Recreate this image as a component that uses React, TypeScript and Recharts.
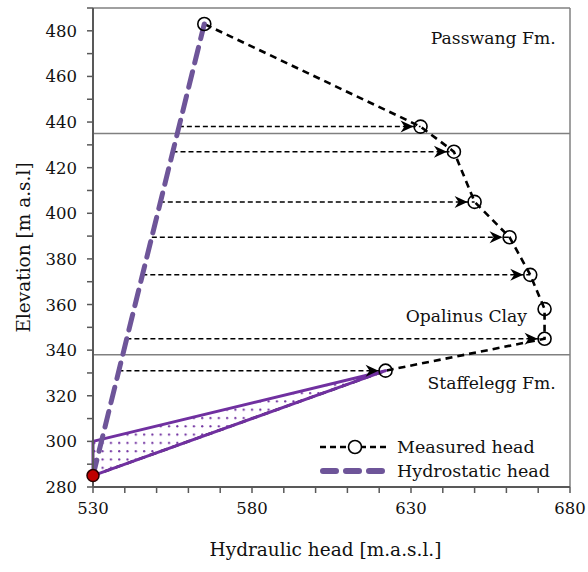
import {
  ComposedChart,
  Line,
  Area,
  XAxis,
  YAxis,
  ReferenceLine,
  ReferenceDot,
  Label,
} from "recharts";

// axis ticks (minor every 10, labels on majors)
const xTicks = [530, 540, 550, 560, 570, 580, 590, 600, 610, 620, 630, 640, 650, 660, 670, 680];
const xLabels = [530, 580, 630, 680];
const yTicks = [280, 290, 300, 310, 320, 330, 340, 350, 360, 370, 380, 390, 400, 410, 420, 430, 440, 450, 460, 470, 480, 490];
const yLabels = [280, 300, 320, 340, 360, 380, 400, 420, 440, 460, 480];

// measured head profile
const measuredHead = [530, 622, 672, 672, 667.5, 661, 650, 643.5, 633, 565];
const measuredElev = [285, 331, 345, 358, 373, 389.5, 405, 427, 438, 483];

// hydrostatic head
const hydroHead = [530, 565];
const hydroElev = [285, 483];

// arrows from hydrostatic line to measured points
const arrowElev = [331, 345, 373, 389.5, 405, 427, 438];
const arrowFrom = [538, 540.5, 545.5, 548.5, 551, 555, 557];
const arrowTo = [622, 672, 667.5, 661, 650, 643.5, 633];

// wedge near the bottom
const wedgeHead = [530, 622, 530, 530];
const wedgeElev = [285, 331, 300, 285];
const wedgeLow = [285, 331];
const wedgeHigh = [300, 331];
const wedgeX = [530, 622];

// formation boundaries and names
const boundaries = [435, 338];
const zoneNames = ["Passwang Fm.", "Opalinus Clay", "Staffelegg Fm."];
const zoneHead = [675.5, 666.5, 675.5];
const zoneElev = [477, 355, 325.5];

const FONT = "DejaVu Serif";
const PURPLE = "#7030a0";
const HYDRO = "#6e5599";
const AXIS = "#595959";

const measuredData = measuredHead.map((x, i) => ({ x, y: measuredElev[i] }));
const hydroData = hydroHead.map((x, i) => ({ x, y: hydroElev[i] }));
const wedgeData = wedgeHead.map((x, i) => ({ x, y: wedgeElev[i] }));
const wedgeFill = wedgeX.map((x, i) => ({ x, r: [wedgeLow[i], wedgeHigh[i]] }));
const arrows = arrowElev.map((y, i) => [
  { x: arrowFrom[i], y },
  { x: arrowTo[i], y },
]);

const YTick = (props: any) => {
  const { x, y, payload } = props;
  if (!yLabels.includes(payload.value)) return <g />;
  return (
    <text x={x} y={y} dy={6} textAnchor="end" fontFamily={FONT} fontSize={16.5} fill="#111">
      {payload.value}
    </text>
  );
};

const XTick = (props: any) => {
  const { x, y, payload } = props;
  if (!xLabels.includes(payload.value)) return <g />;
  return (
    <text x={x} y={y} dy={13} textAnchor="middle" fontFamily={FONT} fontSize={16.5} fill="#111">
      {payload.value}
    </text>
  );
};

const YTitle = (props: any) => {
  const vb = props.viewBox || {};
  const cx = (vb.x || 0) + 24;
  const cy = (vb.y || 0) + (vb.height || 0) / 2;
  return (
    <text
      transform={`translate(${cx},${cy}) rotate(-90)`}
      textAnchor="middle"
      dy={6}
      fontFamily={FONT}
      fontSize={18.5}
      fill="#111"
    >
      Elevation [m a.s.l]
    </text>
  );
};

const MeasuredDot = (p: any) => {
  if (p.index === 0) return <g key={`m-${p.index}`} />;
  return (
    <circle key={`m-${p.index}`} cx={p.cx} cy={p.cy} r={6.5} fill="none" stroke="#000" strokeWidth={1.6} />
  );
};

const ArrowHead = (p: any) => {
  if (p.index === 0) return <g key={`a-${p.index}`} />;
  const tx = p.cx - 7;
  const ty = p.cy;
  return (
    <path
      key={`a-${p.index}`}
      d={`M${tx},${ty} L${tx - 13},${ty - 6} L${tx - 9},${ty} L${tx - 13},${ty + 6} Z`}
      fill="#000"
    />
  );
};

const LegendBox = () => (
  <svg width={262} height={50} style={{ position: "absolute", left: 316, top: 436 }}>
    <line x1={4} y1={11} x2={74} y2={11} stroke="#000" strokeWidth={2.5} strokeDasharray="6 4" />
    <circle cx={39} cy={11} r={6.5} fill="#fff" stroke="#000" strokeWidth={1.6} />
    <text x={81} y={17} fontFamily={FONT} fontSize={17.5} fill="#111">Measured head</text>
    <line x1={7} y1={35} x2={66} y2={35} stroke={HYDRO} strokeWidth={6} strokeDasharray="13 10" strokeLinecap="round" />
    <text x={81} y={41} fontFamily={FONT} fontSize={17.5} fill="#111">Hydrostatic head</text>
  </svg>
);

export default function App() {
  return (
    <div style={{ position: "absolute", left: 0, top: 0, width: 588, height: 572, background: "#fff" }}>
      <ComposedChart
        width={588}
        height={572}
        margin={{ top: 8, right: 18, left: 0, bottom: 0 }}
      >
        <defs>
          <pattern id="dots" width="8.3" height="8.3" patternUnits="userSpaceOnUse">
            <circle cx="3" cy="3" r="1.1" fill={PURPLE} />
          </pattern>
        </defs>
        <XAxis
          dataKey="x"
          type="number"
          domain={[530, 680]}
          ticks={xTicks}
          interval={0}
          height={85}
          tickSize={6}
          tickMargin={8}
          tick={<XTick />}
          axisLine={{ stroke: AXIS, strokeWidth: 2 }}
          tickLine={{ stroke: AXIS, strokeWidth: 1.5 }}
        >
          <Label
            value="Hydraulic head [m.a.s.l.]"
            position="insideBottom"
            offset={16}
            style={{ fontFamily: FONT, fontSize: 18.5, fill: "#111" }}
            dx={-6}
          />
        </XAxis>
        <YAxis
          type="number"
          domain={[280, 490]}
          ticks={yTicks}
          interval={0}
          width={93}
          tickSize={6}
          tickMargin={10}
          tick={<YTick />}
          axisLine={{ stroke: AXIS, strokeWidth: 2 }}
          tickLine={{ stroke: AXIS, strokeWidth: 1.5 }}
        >
          <Label content={<YTitle />} />
        </YAxis>

        <ReferenceLine y={490} stroke="#808080" strokeWidth={1.5} />
        <ReferenceLine x={680} stroke="#808080" strokeWidth={1.5} />
        {boundaries.map((b) => (
          <ReferenceLine key={b} y={b} stroke="#808080" strokeWidth={1.5} />
        ))}

        {zoneNames.map((n, i) => (
          <ReferenceDot
            key={n}
            x={zoneHead[i]}
            y={zoneElev[i]}
            r={0}
            fill="none"
            stroke="none"
            label={{
              value: n,
              position: "left",
              offset: 0,
              style: { fontFamily: FONT, fontSize: 17.2, fill: "#111" },
            }}
          />
        ))}

        <Area
          data={wedgeFill}
          dataKey="r"
          type="linear"
          stroke="none"
          fill="url(#dots)"
          fillOpacity={1}
          isAnimationActive={false}
          legendType="none"
        />

        {arrows.map((a, i) => (
          <Line
            key={`arrow-${i}`}
            data={a}
            dataKey="y"
            type="linear"
            stroke="#000"
            strokeWidth={1.5}
            strokeDasharray="5 3"
            dot={ArrowHead}
            activeDot={false}
            isAnimationActive={false}
            legendType="none"
          />
        ))}

        <Line
          data={measuredData}
          dataKey="y"
          type="linear"
          stroke="#000"
          strokeWidth={2.6}
          strokeDasharray="7 5"
          dot={MeasuredDot}
          activeDot={false}
          isAnimationActive={false}
          legendType="none"
        />
        <Line
          data={wedgeData}
          dataKey="y"
          type="linear"
          stroke={PURPLE}
          strokeWidth={3}
          strokeLinejoin="round"
          dot={false}
          activeDot={false}
          isAnimationActive={false}
          legendType="none"
        />
        <Line
          data={hydroData}
          dataKey="y"
          type="linear"
          stroke={HYDRO}
          strokeWidth={5}
          strokeDasharray="16 9"
          strokeLinecap="round"
          dot={false}
          activeDot={false}
          isAnimationActive={false}
          legendType="none"
        />
        <ReferenceDot
          x={530}
          y={285}
          r={6}
          fill="#c00000"
          stroke="#2a0000"
          strokeWidth={1.5}
          ifOverflow="visible"
        />
      </ComposedChart>
      <LegendBox />
    </div>
  );
}
